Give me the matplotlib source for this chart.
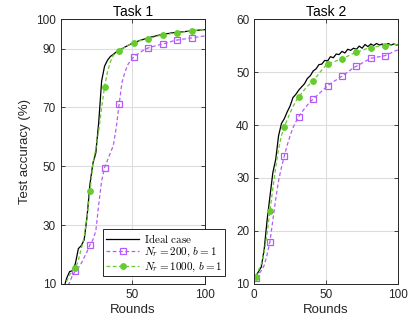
import matplotlib as mpl

mpl.use('Agg')
import matplotlib.pyplot as plt

plt.rcParams['font.family'] = ['Liberation Sans', 'DejaVu Sans']
plt.rcParams['mathtext.fontset'] = 'cm'

# rounds at which the curves are sampled
rounds = list(range(1, 100, 2)) + [100]

# Task 1 accuracies (%)
t1_ideal = [6, 8.5, 12, 14.2, 14.5, 17, 22, 23, 25, 33, 44, 51, 54.5, 65, 79, 84,
            86, 87.3, 88, 88.8, 89.4, 89.9, 90.5, 91, 91.5, 91.9, 92.3, 92.7, 93, 93.3,
            93.6, 93.9, 94.1, 94.4, 94.6, 94.8, 95, 95.1, 95.3, 95.4, 95.5, 95.6, 95.7,
            95.8, 95.9, 96, 96.1, 96.2, 96.3, 96.4, 96.4]
t1_nr200 = [6, 7.5, 9, 10.5, 13, 14.4, 15.5, 17, 19, 21, 23.3, 25, 28, 37, 45, 49.5,
            52, 54.5, 57, 63, 71, 78.5, 82, 84.5, 86, 87.1, 87.9, 88.5, 89.2, 89.8,
            90.2, 90.5, 90.8, 91, 91.3, 91.5, 91.8, 92.1, 92.4, 92.7, 92.9, 93, 93.2,
            93.3, 93.5, 93.6, 93.8, 93.9, 94.1, 94.2, 94.3]
t1_nr1000 = [7, 9, 11, 13, 14.5, 15.3, 18, 22, 26, 33, 41.5, 51, 56, 62, 70, 77,
             82, 85.5, 87.7, 88.6, 89.1, 89.8, 90.5, 91, 91.5, 91.9, 92.3, 92.6, 92.9,
             93.1, 93.3, 93.6, 93.9, 94.2, 94.4, 94.6, 94.8, 94.9, 95.1, 95.2, 95.3,
             95.5, 95.6, 95.8, 95.9, 96, 96.1, 96.2, 96.3, 96.4, 96.4]

# Task 2 accuracies (%)
t2_ideal = [11.4, 12.3, 13.2, 16.5, 22, 26.5, 31, 33.5, 38, 40.3, 41.2, 42.5, 43.6,
            45.2, 45.8, 46.6, 47.2, 47.8, 48.8, 49.3, 50.2, 50.6, 51.4, 51.5, 52.2,
            52.1, 52.9, 52.7, 53.4, 53.3, 53.9, 53.6, 54.3, 54.1, 54.5, 54.3, 54.9,
            54.5, 55.2, 54.8, 55.3, 55.0, 55.4, 55.1, 55.3, 55.0, 55.4, 55.1, 55.3,
            55.1, 55.2]
t2_nr200 = [11.1, 11.8, 12.5, 13.5, 15.5, 18, 22, 26, 29.5, 32, 34.2, 36.2, 38, 39.5,
            40.6, 41.6, 42.4, 43.1, 43.8, 44.4, 44.9, 45.4, 45.9, 46.4, 46.9, 47.4,
            47.8, 48.2, 48.5, 48.9, 49.2, 49.6, 50, 50.4, 50.8, 51.1, 51.4, 51.7, 52,
            52.3, 52.6, 52.7, 52.8, 52.9, 53, 53.1, 53.4, 53.6, 53.9, 54.1, 54.2]
t2_nr1000 = [11.4, 12.5, 13.8, 16, 19.5, 23.8, 28, 32, 35.5, 38, 39.7, 41, 42.3, 43.5,
             44.5, 45.3, 46, 46.7, 47.3, 47.8, 48.3, 49, 49.7, 50.4, 51, 51.5, 51.7,
             51.9, 52.1, 52.3, 52.5, 52.8, 53, 53.3, 53.5, 53.7, 53.9, 54.1, 54.3,
             54.5, 54.6, 54.7, 54.8, 54.9, 55, 55, 55.1, 55.1, 55.2, 55.2, 55.2]

labels = [r'$\mathrm{Ideal\ case}$', r'$N_r = 200,\, b = 1$', r'$N_r = 1000,\, b = 1$']
purple = '#B45CFA'
green = '#66CC2E'
marks = slice(0, 50, 5)

fig = plt.figure(figsize=(4.2, 3.29), dpi=100)
ax1 = fig.add_axes([0.145, 0.137, 0.343, 0.805])
ax2 = fig.add_axes([0.605, 0.137, 0.343, 0.805])


def draw(ax, ideal, nr200, nr1000):
    ax.plot(rounds, ideal, color='black', lw=0.9, label=labels[0])
    ax.plot(rounds, nr200, color=purple, lw=0.9, dashes=(3, 2), marker='s',
            markersize=4.5, markerfacecolor='none', markeredgewidth=0.9,
            markevery=marks, label=labels[1])
    ax.plot(rounds, nr1000, color=green, lw=0.9, dashes=(3, 2), marker='o',
            markersize=4, markeredgewidth=0.9, markevery=marks, label=labels[2])
    ax.grid(True, color='#dddddd', lw=0.8)
    ax.set_axisbelow(True)
    ax.tick_params(direction='in', top=True, right=True, labelsize=8.5,
                   length=3, colors='#262626', width=0.6)
    for s in ax.spines.values():
        s.set_color('#262626')
        s.set_linewidth(0.7)
    ax.set_xlabel('Rounds', fontsize=9.5, color='#262626', labelpad=2)


draw(ax1, t1_ideal, t1_nr200, t1_nr1000)
ax1.set_xlim(1, 100)
ax1.set_xticks([50, 100])
ax1.set_ylim(10, 100)
ax1.set_yticks([10, 30, 50, 70, 90, 100])
ax1.set_title('Task 1', fontsize=10, pad=2)
ax1.set_ylabel('Test accuracy (%)', fontsize=9.5, color='#262626', labelpad=4)
leg = ax1.legend(loc='lower right', bbox_to_anchor=(1.155, 0.02), fontsize=8,
                 fancybox=False, edgecolor='#262626', framealpha=1,
                 handlelength=3.0, borderpad=0.25, labelspacing=0.1,
                 handletextpad=0.4, borderaxespad=0.2)
leg.get_frame().set_linewidth(0.7)

draw(ax2, t2_ideal, t2_nr200, t2_nr1000)
ax2.set_xlim(0, 100)
ax2.set_xticks([0, 50, 100])
ax2.set_ylim(10, 60)
ax2.set_yticks([10, 20, 30, 40, 50, 60])
ax2.set_title('Task 2', fontsize=10, pad=2)

fig.savefig('out.png', dpi=100)
